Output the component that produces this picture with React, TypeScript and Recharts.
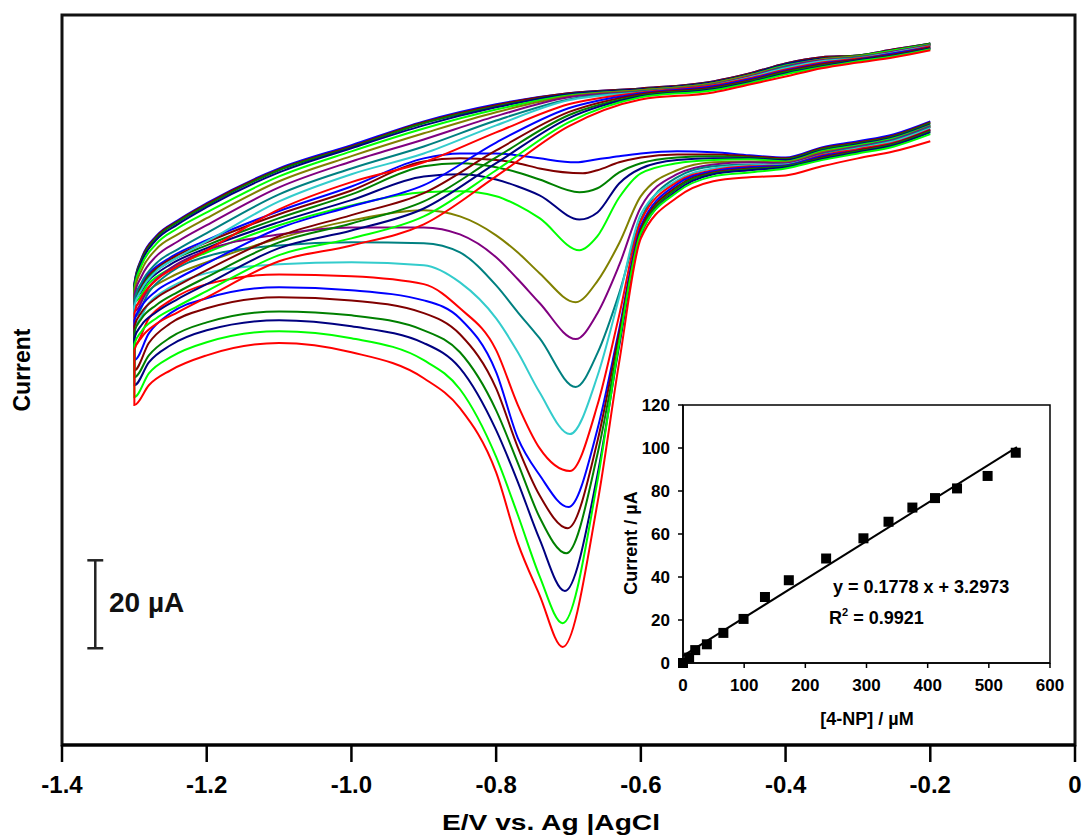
import React from 'react';
import { LineChart, Line, XAxis, YAxis, ReferenceLine, ReferenceArea, ComposedChart, Scatter } from 'recharts';

const FONT = "'Liberation Sans', Arial, Helvetica, sans-serif";

// ---------- main voltammogram ----------
const xTicks = [-1.4, -1.2, -1.0, -0.8, -0.6, -0.4, -0.2, 0];
const xTickLabels = ['-1.4', '-1.2', '-1.0', '-0.8', '-0.6', '-0.4', '-0.2', '0'];
const xDomain = [-1.4, 0];
const yDomain = [0, 166];

// potentials (V) of the cathodic (lower) branch, from -0.2 V down to -1.3 V; the peak potential sits between
const lowerERight = [-0.2, -0.25, -0.3, -0.35, -0.4, -0.45, -0.5, -0.55, -0.6, -0.63, -0.66];
const lowerELeft = [-0.74, -0.77, -0.8, -0.85, -0.9, -1.0, -1.1, -1.2, -1.25, -1.28, -1.3];
// potentials (V) of the return (upper) branch
const upperE = [-1.3, -1.29, -1.27, -1.24, -1.2, -1.1, -1.0, -0.9, -0.8, -0.7, -0.6, -0.5, -0.45, -0.4, -0.35, -0.3, -0.25, -0.2];

const peakE = [-0.69, -0.68, -0.685, -0.685, -0.685, -0.69, -0.69, -0.69, -0.698, -0.698, -0.7, -0.701, -0.703, -0.705, -0.708, -0.708];

const curveColors = ['#0000FF', '#800000', '#008000', '#000080', '#00FF00', '#808000', '#800080', '#008080', '#33CCCC', '#FF0000',
  '#0000FF', '#800000', '#008000', '#000080', '#00FF00', '#FF0000'];

// currents (µA, arbitrary offset)
const lower01 = [141.8, 138.9, 137.3, 135.9, 133.6, 134.1, 134.8, 135.0, 134.5, 133.9, 133.2, 132.5, 133.4, 134.1, 134.5, 134.5, 133.4, 127.0, 121.4, 114.8, 110.9, 107.3, 103.0];
const upper01 = [105.0, 110.7, 115.7, 119.3, 123.2, 131.1, 136.4, 141.8, 145.7, 148.2, 149.3, 150.9, 152.7, 155.0, 156.4, 156.8, 158.2, 159.5];
const lower02 = [141.6, 138.6, 137.0, 135.7, 133.4, 133.9, 134.3, 134.3, 133.6, 132.5, 130.7, 130.0, 131.1, 132.3, 133.0, 133.4, 132.7, 126.1, 120.7, 114.3, 110.5, 106.8, 102.5];
const upper02 = [104.8, 110.5, 115.5, 119.1, 123.0, 130.9, 136.1, 141.6, 145.5, 148.2, 149.3, 150.9, 152.7, 155.0, 156.4, 156.8, 158.2, 159.5];
const lower03 = [141.4, 138.4, 136.8, 135.5, 133.2, 133.6, 133.9, 133.6, 132.3, 130.2, 126.6, 125.7, 128.6, 130.2, 131.4, 132.3, 131.6, 125.2, 119.8, 113.6, 110.0, 106.4, 102.0];
const upper03 = [104.5, 110.2, 115.2, 118.9, 122.7, 130.7, 135.9, 141.4, 145.2, 148.0, 149.1, 150.7, 152.5, 154.8, 156.1, 156.8, 158.0, 159.5];
const lower04 = [141.1, 138.2, 136.6, 135.2, 133.0, 133.4, 133.4, 133.0, 131.1, 127.7, 121.1, 119.5, 125.0, 127.0, 128.6, 129.8, 129.3, 123.9, 118.9, 113.0, 109.3, 105.7, 101.6];
const upper04 = [104.3, 109.8, 114.8, 118.4, 122.3, 130.2, 135.7, 140.9, 145.0, 148.0, 149.1, 150.7, 152.5, 154.8, 156.1, 156.6, 158.0, 159.3];
const lower05 = [140.9, 138.0, 136.4, 135.0, 132.7, 133.2, 133.0, 132.3, 130.0, 124.5, 115.7, 112.5, 119.8, 122.7, 124.8, 125.9, 125.7, 122.7, 118.2, 112.0, 108.4, 105.0, 100.7];
const upper05 = [103.9, 109.1, 113.9, 117.5, 121.1, 129.3, 135.0, 140.2, 144.5, 147.7, 148.9, 150.5, 152.3, 154.5, 155.9, 156.6, 158.0, 159.3];
const lower06 = [140.7, 137.7, 136.1, 134.8, 132.5, 132.7, 132.5, 130.7, 124.8, 114.1, 105.5, 100.7, 107.3, 112.0, 115.9, 120.2, 121.6, 119.3, 115.2, 109.8, 106.4, 103.4, 99.8];
const upper06 = [103.2, 108.0, 112.7, 116.1, 119.8, 128.2, 133.9, 139.1, 143.9, 147.5, 148.9, 150.5, 152.3, 154.3, 155.9, 156.6, 157.7, 159.3];
const lower07 = [140.7, 137.7, 136.1, 134.5, 132.3, 132.5, 132.0, 129.8, 122.3, 109.1, 98.2, 92.3, 100.5, 105.9, 110.9, 116.1, 117.7, 117.7, 116.1, 112.5, 108.4, 104.1, 98.6];
const upper07 = [102.3, 106.6, 111.1, 114.5, 118.2, 126.8, 132.7, 137.7, 143.0, 147.3, 148.6, 150.2, 152.0, 154.3, 155.7, 156.4, 157.7, 159.1];
const lower08 = [140.5, 137.5, 135.9, 134.3, 132.0, 132.0, 131.6, 129.1, 119.5, 102.7, 89.1, 81.4, 92.5, 98.4, 104.5, 112.0, 114.1, 114.3, 113.6, 111.1, 107.5, 103.0, 97.3];
const upper08 = [101.1, 105.2, 109.5, 112.7, 116.4, 125.2, 131.1, 136.1, 142.0, 146.8, 148.6, 150.2, 151.8, 154.1, 155.5, 156.4, 157.5, 159.1];
const lower09 = [140.2, 137.3, 135.7, 134.1, 132.0, 131.8, 131.1, 128.4, 120.7, 101.8, 83.9, 70.7, 80.2, 89.3, 97.0, 105.2, 109.1, 109.8, 109.3, 107.3, 104.1, 100.5, 95.5];
const upper09 = [99.8, 103.6, 107.7, 110.9, 114.5, 123.6, 129.8, 134.5, 140.9, 146.6, 148.4, 150.0, 151.8, 153.9, 155.5, 156.1, 157.5, 158.9];
const lower10 = [140.0, 137.0, 135.5, 134.1, 131.8, 131.6, 130.7, 128.0, 119.1, 97.7, 77.3, 62.3, 67.5, 77.3, 89.8, 99.3, 104.8, 106.6, 107.0, 104.8, 101.1, 97.0, 90.9];
const upper10 = [98.2, 101.8, 105.7, 108.9, 112.5, 121.8, 128.0, 132.5, 139.3, 145.7, 148.4, 150.0, 151.6, 153.6, 155.2, 156.1, 157.3, 158.9];
const lower11 = [139.8, 136.8, 135.2, 133.9, 131.8, 131.4, 130.5, 127.5, 118.0, 94.5, 71.8, 54.1, 61.4, 69.8, 84.8, 97.0, 101.1, 103.4, 104.1, 101.6, 98.2, 93.6, 87.5];
const upper11 = [96.6, 99.8, 103.2, 106.1, 109.5, 117.5, 122.5, 127.3, 137.0, 144.8, 148.2, 149.8, 151.4, 153.4, 155.0, 155.9, 157.3, 158.6];
const lower12 = [139.8, 136.8, 135.2, 133.6, 131.6, 131.1, 130.2, 127.0, 117.3, 93.6, 69.1, 49.3, 56.8, 67.7, 81.1, 93.4, 98.2, 101.1, 101.8, 99.3, 95.9, 91.4, 85.2];
const upper12 = [95.2, 98.4, 101.6, 104.5, 108.0, 115.7, 120.5, 125.5, 135.2, 143.9, 148.0, 149.5, 151.1, 153.2, 154.8, 155.9, 157.0, 158.6];
const lower13 = [139.5, 136.6, 135.0, 133.4, 131.6, 130.9, 130.0, 126.6, 116.6, 91.8, 66.1, 43.6, 51.8, 64.1, 76.1, 89.3, 94.3, 97.7, 98.6, 96.1, 92.7, 88.6, 83.6];
const upper13 = [93.9, 97.0, 100.0, 103.0, 106.4, 114.3, 118.6, 123.6, 133.6, 143.2, 147.7, 149.3, 150.9, 153.0, 154.5, 155.7, 156.8, 158.4];
const lower14 = [139.3, 136.4, 134.8, 133.2, 131.4, 130.7, 129.8, 126.1, 116.1, 90.7, 61.4, 35.0, 46.8, 59.8, 71.6, 85.7, 91.4, 95.2, 96.6, 94.3, 90.9, 87.0, 81.8];
const upper14 = [92.5, 95.5, 98.4, 101.4, 104.8, 113.0, 117.0, 122.0, 132.3, 142.5, 147.5, 149.1, 150.7, 152.7, 154.3, 155.7, 156.8, 158.4];
const lower15 = [138.9, 136.1, 134.5, 133.0, 131.1, 130.2, 129.3, 125.7, 116.4, 91.4, 60.0, 27.7, 38.4, 52.3, 65.5, 80.9, 87.5, 92.5, 94.1, 91.6, 88.2, 84.5, 79.1];
const upper15 = [91.1, 94.1, 97.0, 99.8, 103.2, 111.4, 115.2, 120.2, 130.7, 141.6, 147.3, 148.9, 150.5, 152.5, 154.1, 155.5, 156.6, 158.2];
const lower16 = [137.3, 135.0, 133.4, 131.6, 129.5, 129.1, 128.2, 124.5, 115.2, 87.0, 55.0, 22.3, 34.1, 45.9, 62.0, 76.6, 83.4, 89.3, 91.4, 88.6, 85.2, 81.8, 77.3];
const upper16 = [89.8, 92.7, 95.7, 98.4, 101.8, 110.0, 113.6, 118.4, 129.3, 140.7, 146.8, 148.4, 150.2, 152.0, 153.9, 155.2, 156.4, 158.0];

const lowerSets = [lower01, lower02, lower03, lower04, lower05, lower06, lower07, lower08, lower09, lower10, lower11, lower12, lower13, lower14, lower15, lower16];
const upperSets = [upper01, upper02, upper03, upper04, upper05, upper06, upper07, upper08, upper09, upper10, upper11, upper12, upper13, upper14, upper15, upper16];

// scale bar (20 µA)
const scaleBarE = -1.354;
const scaleBarCapHalf = 0.011;
const scaleBarBottom = 22;
const scaleBarSpan = 20;

// ---------- inset calibration ----------
const concentration = [0, 10, 20, 39, 66, 99, 134, 173, 234, 295, 336, 375, 412, 448, 498, 544];
const peakCurrent = [0, 2.5, 6, 8.7, 14, 20.5, 30.7, 38.5, 48.6, 58, 65.7, 72.3, 76.7, 81.2, 87, 97.8];
const fitLineX = [0, 546];
const fitLineY = [3.3, 100.4];
const insetXTicks = [0, 100, 200, 300, 400, 500, 600];
const insetYTicks = [0, 20, 40, 60, 80, 100, 120];
const insetXDomain = [0, 600];
const insetYDomain = [0, 120];

function buildLoop(i: number) {
  const lower = lowerSets[i];
  const upper = upperSets[i];
  const lowerE = [...lowerERight, peakE[i], ...lowerELeft];
  const pts = lowerE.map((e, k) => ({ E: e, I: lower[k] }));
  upperE.forEach((e, k) => pts.push({ E: e, I: upper[k] }));
  return pts;
}

const loops = lowerSets.map((_, i) => buildLoop(i));
const insetData = concentration.map((c, i) => ({ x: c, y: peakCurrent[i] }));

const fmtX = (v: number) => {
  const idx = xTicks.findIndex((t) => Math.abs(t - v) < 1e-9);
  return idx >= 0 ? xTickLabels[idx] : String(v);
};

const SquareMarker = (props: any) => {
  const { cx, cy } = props;
  if (cx == null || cy == null) return null;
  return <rect x={cx - 5} y={cy - 5} width={10} height={10} fill="#000" />;
};

export default function App() {
  return (
    <div style={{ position: 'absolute', left: 0, top: 0, width: 1082, height: 836, background: '#fff', fontFamily: FONT }}>
      <LineChart width={1082} height={836} margin={{ top: 15, right: 7, left: 62, bottom: 31 }}>
        <XAxis
          type="number"
          dataKey="E"
          domain={xDomain}
          ticks={xTicks}
          interval={0}
          tickFormatter={fmtX}
          height={60}
          tickSize={17}
          tickMargin={14}
          axisLine={{ stroke: '#000', strokeWidth: 3 }}
          tickLine={{ stroke: '#000', strokeWidth: 2.5 }}
          tick={{ fill: '#000', fontSize: 24, fontWeight: 700, fontFamily: FONT }}
          allowDataOverflow
        />
        <YAxis type="number" domain={yDomain} hide allowDataOverflow />
        <ReferenceArea x1={xDomain[0]} x2={xDomain[1]} y1={yDomain[0]} y2={yDomain[1]} fill="none" fillOpacity={0} stroke="#111" strokeWidth={3} />
        <ReferenceLine segment={[{ x: scaleBarE, y: scaleBarBottom }, { x: scaleBarE, y: scaleBarBottom + scaleBarSpan }]} stroke="#222" strokeWidth={2.5} />
        <ReferenceLine segment={[{ x: scaleBarE - scaleBarCapHalf, y: scaleBarBottom }, { x: scaleBarE + scaleBarCapHalf, y: scaleBarBottom }]} stroke="#222" strokeWidth={2.5} />
        <ReferenceLine segment={[{ x: scaleBarE - scaleBarCapHalf, y: scaleBarBottom + scaleBarSpan }, { x: scaleBarE + scaleBarCapHalf, y: scaleBarBottom + scaleBarSpan }]} stroke="#222" strokeWidth={2.5} />
        {loops.map((d, i) => (
          <Line
            key={i}
            data={d}
            dataKey="I"
            type="monotoneX"
            stroke={curveColors[i]}
            strokeWidth={2}
            dot={false}
            activeDot={false}
            isAnimationActive={false}
          />
        ))}
      </LineChart>

      <div style={{ position: 'absolute', left: 600, top: 380 }}>
        <ComposedChart width={470} height={350} margin={{ top: 25, right: 20, left: 20, bottom: 17 }}>
          <XAxis
            type="number"
            dataKey="x"
            domain={insetXDomain}
            ticks={insetXTicks}
            interval={0}
            height={50}
            tickSize={5}
            tickMargin={11}
            axisLine={{ stroke: '#000', strokeWidth: 1.5 }}
            tickLine={{ stroke: '#000', strokeWidth: 1.5 }}
            tick={{ fill: '#000', fontSize: 17, fontWeight: 700, fontFamily: FONT }}
          />
          <YAxis
            type="number"
            dataKey="y"
            domain={insetYDomain}
            ticks={insetYTicks}
            interval={0}
            width={63}
            tickSize={5}
            tickMargin={8}
            axisLine={{ stroke: '#000', strokeWidth: 1.5 }}
            tickLine={{ stroke: '#000', strokeWidth: 1.5 }}
            tick={{ fill: '#000', fontSize: 17, fontWeight: 700, fontFamily: FONT }}
          />
          <ReferenceArea x1={insetXDomain[0]} x2={insetXDomain[1]} y1={insetYDomain[0]} y2={insetYDomain[1]} fill="none" fillOpacity={0} stroke="#000" strokeWidth={1.5} />
          <ReferenceLine segment={[{ x: fitLineX[0], y: fitLineY[0] }, { x: fitLineX[1], y: fitLineY[1] }]} stroke="#000" strokeWidth={2} />
          <Scatter data={insetData} shape={SquareMarker} isAnimationActive={false} />
        </ComposedChart>
      </div>

      <svg width={1082} height={836} style={{ position: 'absolute', left: 0, top: 0, pointerEvents: 'none' }}>
        <text x={22} y={370} transform="rotate(-90 22 370)" textAnchor="middle" dominantBaseline="central" fontSize={23} fontWeight={700} fontFamily={FONT} fill="#000">Current</text>
        <text x={551} y={830} textAnchor="middle" fontSize={22} fontWeight={700} fontFamily={FONT} fill="#000" textLength={218} lengthAdjust="spacingAndGlyphs">E/V vs. Ag |AgCl</text>
        <text x={109} y={612} fontSize={28} fontWeight={700} fontFamily={FONT} fill="#111">20 µA</text>
        <text x={631} y={543} transform="rotate(-90 631 543)" textAnchor="middle" dominantBaseline="central" fontSize={18} fontWeight={700} fontFamily={FONT} fill="#000">Current / µA</text>
        <text x={867} y={725} textAnchor="middle" fontSize={18} fontWeight={700} fontFamily={FONT} fill="#000">[4-NP] / µM</text>
        <text x={833} y={593} fontSize={18} fontWeight={700} fontFamily={FONT} fill="#000">y = 0.1778 x + 3.2973</text>
        <text x={829} y={624} fontSize={18} fontWeight={700} fontFamily={FONT} fill="#000">
          R<tspan fontSize={11} dy={-8}>2</tspan><tspan dy={8}> = 0.9921</tspan>
        </text>
      </svg>
    </div>
  );
}
